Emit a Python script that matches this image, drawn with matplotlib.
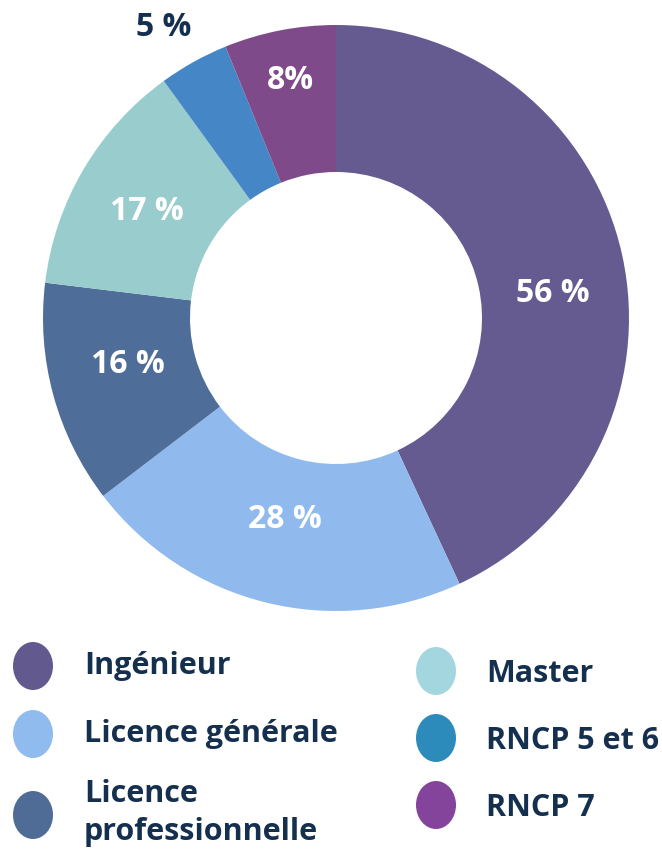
import matplotlib
matplotlib.use("Agg")
import matplotlib.pyplot as plt
from matplotlib.patches import Ellipse
import numpy as np

categories = ["Ingénieur", "Licence générale", "Licence\nprofessionnelle", "Master", "RNCP 5 et 6", "RNCP 7"]
values = [56, 28, 16, 17, 5, 8]
value_labels = ["56 %", "28 %", "16 %", "17 %", "5 %", "8%"]

pie_colors = ["#655b91", "#90baed", "#4e6d99", "#99cccc", "#4587c6", "#7f4a8a"]
legend_colors = ["#625a8e", "#8fbbee", "#4f6c97", "#a3d6de", "#2d8bbb", "#85449b"]
label_colors = ["white", "white", "white", "white", "#15304f", "white"]
# label placement (radius in px, angle offset in degrees clockwise)
label_radius = [218, 208, 213, 217, 338, 242]
label_shift = [5.9, 0.4, 2.5, -1.1, -1.6, 0.2]

W, H = 662, 849
fig = plt.figure(figsize=(W / 100, H / 100), dpi=100)
ax = fig.add_axes([0, 0, 1, 1])

cx, cy = 336, H - 318
R, Rin = 293, 146
wedges, _ = ax.pie(values, colors=pie_colors, startangle=90, counterclock=False,
                   center=(cx, cy), radius=R, frame=True,
                   wedgeprops=dict(width=R - Rin, linewidth=0))
ax.set_xlim(0, W)
ax.set_ylim(0, H)
ax.axis("off")

font = "Open Sans"
for w, lab, col, r, s in zip(wedges, value_labels, label_colors, label_radius, label_shift):
    mid = np.deg2rad((w.theta1 + w.theta2) / 2 - s)
    x = cx + r * np.cos(mid)
    y = cy + r * np.sin(mid)
    ax.text(x, y, lab, ha="center", va="center", color=col, fontsize=23,
            fontweight="bold", family=font)

# legend
navy = "#15304f"
marker_x = [33, 33, 33, 436, 436, 436]
marker_y = [666, 734, 815, 671, 738, 805]
text_x = [84, 84, 84, 486, 486, 486]
text_y = [666, 734, 813, 674, 741, 808]
for cat, c, mx, my, tx, ty in zip(categories, legend_colors, marker_x, marker_y, text_x, text_y):
    ax.add_patch(Ellipse((mx, H - my), 40, 48, color=c, lw=0))
    ax.text(tx, H - ty, cat, ha="left", va="center", color=navy, fontsize=22,
            fontweight="bold", family=font, linespacing=1.32)

fig.savefig("out.png", dpi=100)
